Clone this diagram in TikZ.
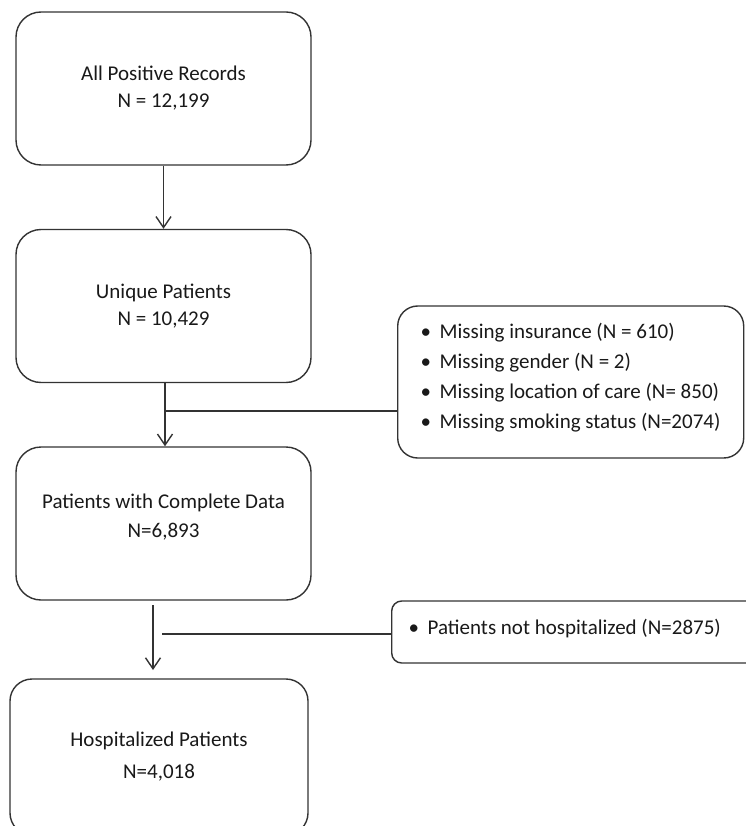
\documentclass[tikz,border=0pt]{standalone}
\usepackage{fontspec}
\setmainfont{Carlito}
\usetikzlibrary{arrows.meta}
\begin{document}
\begin{tikzpicture}[x=1pt,y=-1pt,
  line/.style={draw=black!80, line width=1.4pt},
  box/.style={line, rounded corners=25pt, minimum width=295pt, minimum height=153pt,
    align=center, inner sep=0pt, text=black!90, font=\fontsize{21}{27}\selectfont},
  side/.style={line, inner sep=0pt, text=black!90, align=flush left, font=\fontsize{21}{30}\selectfont},
  arr/.style={line, -{Straight Barb[length=11pt,width=15pt]}}
]
\useasboundingbox (0,0) rectangle (745,826);
\newcommand{\bul}{\makebox[19pt][l]{\textbullet}}
% main boxes
\node[box] (b1) at (163.5,88.5) {All Positive Records\\N = 12,199};
\node[box] (b2) at (163.5,306) {Unique Patients\\N = 10,429};
\node[box, font=\fontsize{21}{29}\selectfont] (b3) at (163.5,523.5) {Patients with Complete Data\\N=6,893\\[-14pt]~};
\node[box, rounded corners=22pt, minimum width=298pt, minimum height=156pt, font=\fontsize{21}{32}\selectfont] (b4) at (159,757) {Hospitalized Patients\\N=4,018};
% side boxes
\node[side, rounded corners=20pt, anchor=west, text width=322pt, inner xsep=12pt, minimum height=152pt] (r1) at (397,382)
  {~\\[-24pt]
   \hspace*{11pt}\bul Missing insurance (N = 610)\\
   \hspace*{11pt}\bul Missing gender (N = 2)\\
   \hspace*{11pt}\bul Missing location of care (N= 850)\\
   \hspace*{11pt}\bul Missing smoking status (N=2074)};
\node[side, rounded corners=10pt, anchor=west, text width=372pt, minimum height=62pt, inner xsep=17pt] (r2) at (391,632)
  {\bul Patients not hospitalized (N=2875)\\[-20pt]~};
% connectors
\draw[arr] (b1) -- (b2);
\draw[arr] (b2.south -| 165,0) -- (b3.north -| 165,0);
\coordinate (j1) at (165,411);
\draw[line] (j1) -- (j1 -| r1.west);
\coordinate (a3s) at (153,605);
\coordinate (a3e) at (153,670);
\draw[arr] (a3s) -- (a3e);
\coordinate (j2) at (162,634);
\draw[line] (j2) -- (j2 -| r2.west);
\end{tikzpicture}
\end{document}
